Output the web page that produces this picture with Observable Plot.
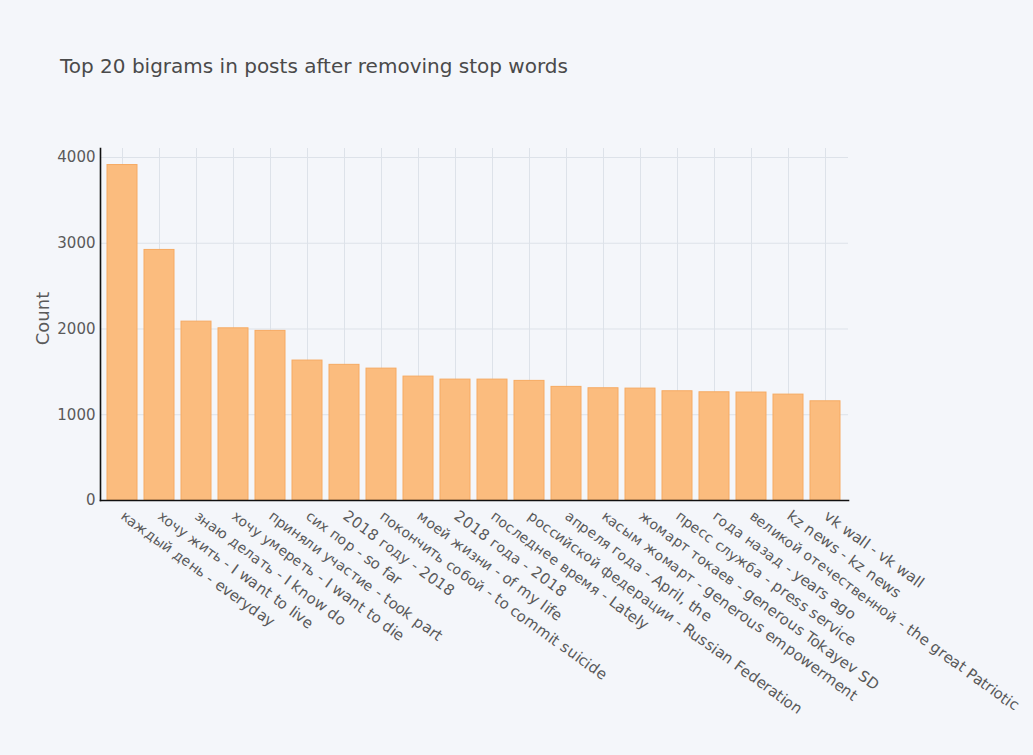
<!DOCTYPE html>
<html>
<head>
<meta charset="utf-8">
<script src="https://cdn.jsdelivr.net/npm/d3@7"></script>
<script src="https://cdn.jsdelivr.net/npm/@observablehq/plot@0.6"></script>
<style>
  @font-face { font-family: "LblMix"; src: local("DejaVu Sans"), local("DejaVuSans"); unicode-range: U+0000-03FF; }
  @font-face { font-family: "LblMix"; src: local("DejaVu Sans"), local("DejaVuSans"); unicode-range: U+0400-04FF; size-adjust: 93%; }
  html, body { margin: 0; padding: 0; background: #f4f6fa; }
  #wrap { position: relative; width: 1033px; height: 755px; background: #f4f6fa; overflow: hidden; }
  #title { position: absolute; left: 60px; top: 54px; font-family: "DejaVu Sans", sans-serif; font-size: 20px; color: #4a4a4a; white-space: nowrap; }
  #chart { position: absolute; left: 0; top: 0; }
</style>
</head>
<body>
<div id="wrap">
  <div id="chart"></div>
  <div id="title">Top 20 bigrams in posts after removing stop words</div>
</div>
<script>
const bigrams = [
  "каждый день - everyday",
  "хочу жить - I want to live",
  "знаю делать - I know do",
  "хочу умереть - I want to die",
  "приняли участие - took part",
  "сих пор - so far",
  "2018 году - 2018",
  "покончить собой - to commit suicide",
  "моей жизни - of my life",
  "2018 года - 2018",
  "последнее время - Lately",
  "российской федерации - Russian Federation",
  "апреля года - April, the",
  "касым жомарт - generous empowerment",
  "жомарт токаев - generous Tokayev SD",
  "пресс служба - press service",
  "года назад - years ago",
  "великой отечественной - the great Patriotic",
  "kz news - kz news",
  "vk wall - vk wall"
];
const counts = [3912, 2922, 2086, 2008, 1978, 1632, 1582, 1538, 1445, 1410, 1410, 1395, 1325, 1309, 1305, 1274, 1262, 1259, 1235, 1157];
const yTicks = [0, 1000, 2000, 3000, 4000];

const data = bigrams.map((b, i) => ({bigram: b, count: counts[i]}));
const FONT = "'DejaVu Sans', sans-serif";

const chart = Plot.plot({
  width: 1033,
  height: 755,
  marginLeft: 100,
  marginRight: 185,
  marginTop: 148,
  marginBottom: 255,
  style: {background: "transparent", fontFamily: FONT, fontSize: "14px", color: "#555"},
  x: {domain: bigrams, paddingInner: 0.18, paddingOuter: 0.09, label: null},
  y: {domain: [0, 4105], label: null},
  marks: [
    Plot.gridX(bigrams, {stroke: "#dde2e9", strokeOpacity: 1}),
    Plot.gridY(yTicks.slice(1), {stroke: "#dde2e9", strokeOpacity: 1}),
    Plot.barY(data, {x: "bigram", y: "count", fill: "#fbbc7e", stroke: "#f6aa62", strokeWidth: 1}),
    Plot.axisY({ticks: yTicks, tickFormat: d => String(d), tickSize: 0, tickPadding: 5, fontSize: 15, fill: "#5a5a5a", label: null}),
    Plot.axisX({tickSize: 0, tickPadding: 14, tickRotate: 36, textAnchor: "start", lineAnchor: "middle", fontSize: 15, fontFamily: "LblMix, 'DejaVu Sans', sans-serif", fill: "#5a5a5a", label: null}),
    Plot.frame({anchor: "left", stroke: "#111", strokeWidth: 1.6}),
    Plot.frame({anchor: "bottom", stroke: "#111", strokeWidth: 1.6}),
    Plot.text(["Count"], {frameAnchor: "left", textAnchor: "middle", dx: -57, dy: -6, rotate: -90, fontSize: 18, fill: "#5a5a5a"})
  ]
});
document.getElementById("chart").appendChild(chart);
</script>
</body>
</html>
